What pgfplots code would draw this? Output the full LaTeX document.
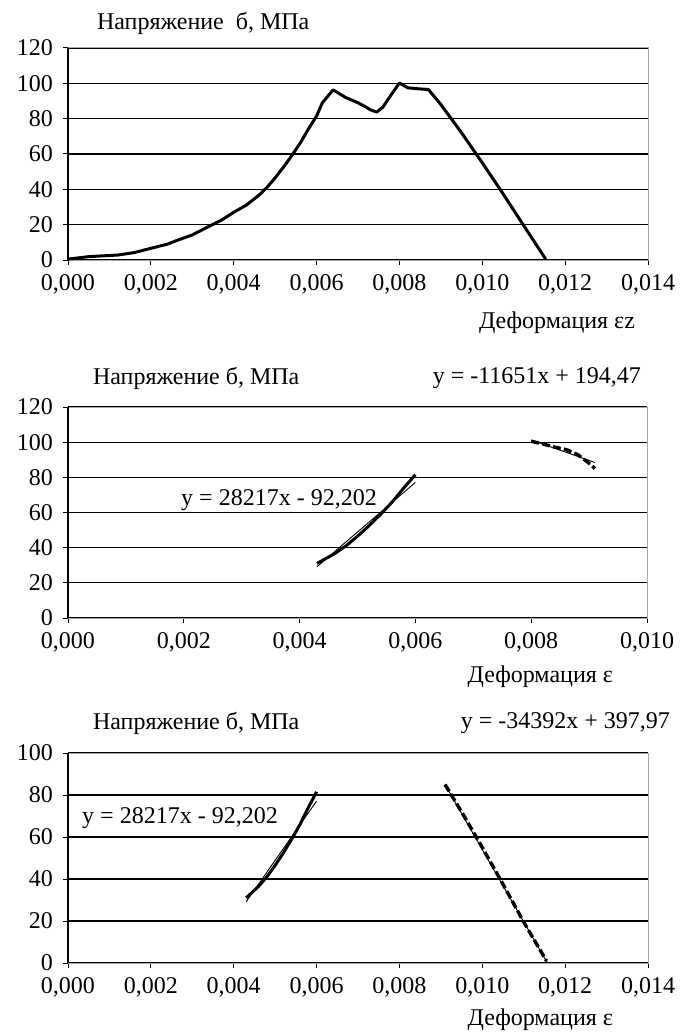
\documentclass[border=0pt]{standalone}
\usepackage{fontspec}
\setmainfont{Liberation Serif}
\usepackage{pgfplots}
\pgfplotsset{compat=1.18}

% 1 px of the reference = 0.5pt
\newcommand{\fs}{\fontsize{12}{14}\selectfont}

\pgfplotsset{
  panel/.style={
    anchor=south west, scale only axis,
    xmin=0, ymin=0,
    axis line style={gray!70, line width=0.5pt},
    ymajorgrids, grid style={black, line width=0.6pt},
    tick align=outside, major tick length=2.5pt,
    xtick pos=bottom, ytick pos=left,
    tick style={black, line width=0.5pt},
    ytick distance=20,
    ticklabel style={font=\fs},
    yticklabel style={xshift=-1.5pt},
    xticklabel style={yshift=-1pt},
    /pgf/number format/assume math mode=true,
    xticklabel={\pgfmathprintnumber[fixed, fixed zerofill, precision=3, use comma]{\tick}},
    scaled x ticks=false,
    clip=false,
  },
  data/.style={black, line width=1.5pt, line join=round},
  trend/.style={black, line width=0.45pt},
  dashdata/.style={black, line width=1.7pt, dash pattern=on 4pt off 1.6pt},
}

\pgfplotstableread{
x y
0.0000 0.5
0.0005 1.9
0.0012 2.8
0.0016 4.2
0.0020 6.6
0.0024 9.0
0.0027 11.7
0.0030 14.2
0.0034 19.0
0.0037 22.5
0.0040 27.0
0.0043 31.0
0.0046 36.5
0.0048 41.0
0.0050 46.5
0.0052 52.5
0.0054 59.0
0.0056 66.0
0.0058 74.0
0.0060 81.5
0.00614 89.0
0.0064 96.3
0.0067 92.0
0.0070 89.0
0.0072 86.5
0.0073 85.0
0.00745 83.7
0.0076 86.5
0.0078 93.5
0.0080 100.2
0.0082 97.5
0.0084 97.0
0.0087 96.5
0.0090 88.0
0.0095 72.0
0.0100 55.0
0.0105 37.5
0.0110 19.5
0.01153 0.5
}\fullcurve

\pgfplotstableread{
x y
0.0043 31.0
0.0046 36.5
0.0048 41.0
0.0050 46.5
0.0052 52.5
0.0054 59.0
0.0056 66.0
0.0058 74.0
0.0060 81.5
}\rising

\pgfplotstableread{
x y
0.0080 100.5
0.0082 99.0
0.0084 97.2
0.0086 95.8
0.0088 93.0
0.0090 88.0
0.0091 85.0
}\peakfall

\pgfplotstableread{
x y
0.0091 85.0
0.0095 72.0
0.0100 55.0
0.0105 37.5
0.0110 19.5
0.01155 1.0
}\fall

\begin{document}
\begin{tikzpicture}
\useasboundingbox (0,0) rectangle (340.5pt,-516pt);

% ---- panel 1 ----
\begin{axis}[panel, at={(34pt,-130pt)}, width=290pt, height=106pt,
    xmax=0.014, ymax=120, xtick distance=0.002]
\draw[black, line width=0.6pt] (rel axis cs:0,0) -- (rel axis cs:0,1);
\addplot[data] table {\fullcurve};
\end{axis}
\node[anchor=west, font=\fs] at (45pt,-11.5pt) {Напряжение\ \ б, МПа};
\node[anchor=east, font=\fs] at (321pt,-161.5pt) {Деформация εz};

% ---- panel 2 ----
\begin{axis}[panel, at={(34pt,-309pt)}, width=289.5pt, height=105.5pt,
    xmax=0.010, ymax=120, xtick distance=0.002]
\draw[black, line width=0.6pt] (rel axis cs:0,0) -- (rel axis cs:0,1);
\addplot[data] table {\rising};
\addplot[trend] coordinates {(0.0043,29.13) (0.0060,77.10)};
\addplot[dashdata] table {\peakfall};
\addplot[trend] coordinates {(0.0080,101.26) (0.0091,88.45)};
\end{axis}
\node[anchor=west, font=\fs] at (43pt,-189pt) {Напряжение б, МПа};
\node[anchor=east, font=\fs] at (324pt,-189pt) {y = -11651x + 194,47};
\node[font=\fs] at (139.5pt,-250pt) {y = 28217x - 92,202};
\node[anchor=east, font=\fs] at (310pt,-338.5pt) {Деформация ε};

% ---- panel 3 ----
\begin{axis}[panel, at={(34pt,-481.5pt)}, width=290pt, height=105pt,
    xmax=0.014, ymax=100, xtick distance=0.002]
\draw[black, line width=0.6pt] (rel axis cs:0,0) -- (rel axis cs:0,1);
\addplot[data] table {\rising};
\addplot[trend] coordinates {(0.0043,29.13) (0.0060,77.10)};
\addplot[trend] coordinates {(0.0091,85.00) (0.01157,0.06)};
\addplot[dashdata] table {\fall};
\end{axis}
\node[anchor=west, font=\fs] at (43pt,-361.5pt) {Напряжение б, МПа};
\node[anchor=east, font=\fs] at (338.5pt,-361.5pt) {y = -34392x + 397,97};
\node[font=\fs] at (90pt,-409pt) {y = 28217x - 92,202};
\node[anchor=east, font=\fs] at (310pt,-510pt) {Деформация ε};
\end{tikzpicture}
\end{document}
